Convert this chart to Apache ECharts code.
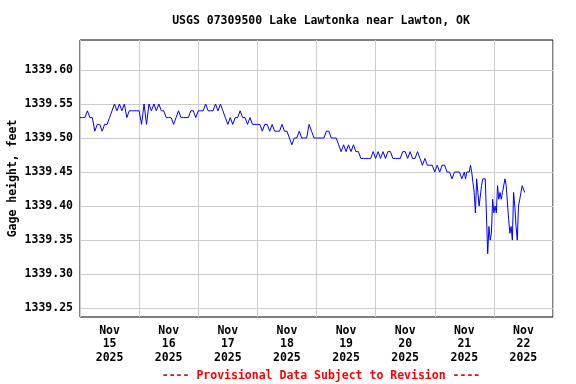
<!DOCTYPE html>
<html><head><meta charset="utf-8">
<script src="https://cdn.jsdelivr.net/npm/echarts@6/dist/echarts.min.js"></script>
<style>html,body{margin:0;padding:0;background:#fff}#c{width:576px;height:384px}</style>
</head><body><div id="c"></div>
<script>
const titleText = 'USGS 07309500 Lake Lawtonka near Lawton, OK';
const yAxisName = 'Gage height, feet';
const footerText = '---- Provisional Data Subject to Revision ----';
const monthLabel = 'Nov';
const yearLabel = '2025';
const dayLabels = ['15','16','17','18','19','20','21','22'];
const yTicks = [1339.25, 1339.30, 1339.35, 1339.40, 1339.45, 1339.50, 1339.55, 1339.60];
const yMin = 1339.237, yMax = 1339.644;
const totalHours = 192; // Nov 15 00:00 to Nov 23 00:00

// Hourly gage height, Nov 15 00:00 .. Nov 21 11:00
const hourlyLevels = [
 1339.53,1339.53,1339.53,1339.54,1339.53,1339.53,1339.51,1339.52,1339.52,1339.51,1339.52,1339.52,1339.53,1339.54,1339.55,1339.54,1339.55,1339.54,1339.55,1339.53,1339.54,1339.54,1339.54,1339.54,
 1339.54,1339.52,1339.55,1339.52,1339.55,1339.54,1339.55,1339.54,1339.55,1339.54,1339.54,1339.53,1339.53,1339.53,1339.52,1339.53,1339.54,1339.53,1339.53,1339.53,1339.53,1339.54,1339.54,1339.53,
 1339.54,1339.54,1339.54,1339.55,1339.54,1339.54,1339.54,1339.55,1339.54,1339.55,1339.54,1339.53,1339.52,1339.53,1339.52,1339.53,1339.53,1339.54,1339.53,1339.53,1339.52,1339.53,1339.52,1339.52,
 1339.52,1339.52,1339.51,1339.52,1339.52,1339.51,1339.52,1339.51,1339.51,1339.51,1339.52,1339.51,1339.51,1339.50,1339.49,1339.50,1339.50,1339.51,1339.50,1339.50,1339.50,1339.52,1339.51,1339.50,
 1339.50,1339.50,1339.50,1339.50,1339.51,1339.51,1339.50,1339.50,1339.50,1339.49,1339.48,1339.49,1339.48,1339.49,1339.48,1339.49,1339.48,1339.48,1339.47,1339.47,1339.47,1339.47,1339.47,1339.48,
 1339.47,1339.48,1339.47,1339.48,1339.47,1339.48,1339.48,1339.47,1339.47,1339.47,1339.47,1339.48,1339.48,1339.47,1339.48,1339.47,1339.47,1339.48,1339.47,1339.46,1339.47,1339.46,1339.46,1339.46,
 1339.45,1339.46,1339.45,1339.46,1339.46,1339.45,1339.45,1339.44,1339.45,1339.45,1339.45,1339.44
];
// Half-hourly gage height, Nov 21 12:00 .. Nov 22 12:30
const halfHourLevels = [
 1339.45,1339.44,1339.45,1339.45,1339.45,1339.46,1339.45,1339.45,1339.42,1339.39,
 1339.44,1339.42,1339.40,1339.40,1339.43,1339.44,1339.44,1339.44,1339.44,1339.33,
 1339.37,1339.35,1339.36,1339.41,1339.39,1339.40,1339.39,1339.43,1339.41,1339.42,
 1339.41,1339.42,1339.42,1339.44,1339.43,1339.43,1339.38,1339.36,1339.37,1339.35,
 1339.42,1339.40,1339.37,1339.35,1339.40,1339.41,1339.42,1339.43,1339.43,1339.42
];
const halfHourStart = 156;

const seriesData = [];
hourlyLevels.forEach((v, i) => seriesData.push([i, v]));
halfHourLevels.forEach((v, i) => seriesData.push([halfHourStart + i * 0.5, v]));

const midnights = [];
for (let h = 0; h <= totalHours; h += 24) midnights.push(h);
const noons = dayLabels.map((d, i) => i * 24 + 12);

const FONT = '"DejaVu Sans Mono", "Liberation Mono", monospace';
const chart = echarts.init(document.getElementById('c'), null, {renderer: 'canvas'});
chart.setOption({
  animation: false,
  backgroundColor: '#ffffff',
  title: [{
    text: titleText,
    left: 316, top: 10, textAlign: 'center',
    textStyle: {fontFamily: FONT, fontWeight: 'bold', fontSize: 11.5, color: '#000'}
  }, {
    text: footerText,
    left: 316, top: 365, textAlign: 'center',
    textStyle: {fontFamily: FONT, fontWeight: 'bold', fontSize: 11.5, color: '#ff0000'}
  }],
  grid: {left: 80, right: 23, top: 40, bottom: 67, show: true, borderColor: '#000', borderWidth: 1,
         backgroundColor: 'transparent', containLabel: false, outerBoundsMode: 'none'},
  xAxis: {
    type: 'value', min: 0, max: totalHours,
    axisLine: {show: false},
    axisTick: {show: false, customValues: midnights},
    splitLine: {show: true, lineStyle: {color: '#cccccc', width: 1}},
    axisLabel: {
      customValues: noons, margin: 7,
      fontFamily: FONT, fontWeight: 'bold', fontSize: 11.5, color: '#000', lineHeight: 13.5,
      formatter: v => monthLabel + '\n' + dayLabels[Math.round((v - 12) / 24)] + '\n' + yearLabel
    }
  },
  yAxis: {
    type: 'value', min: yMin, max: yMax,
    name: yAxisName, nameLocation: 'middle', nameGap: 61, nameRotate: 90, nameMoveOverlap: false,
    nameTextStyle: {fontFamily: FONT, fontWeight: 'bold', fontSize: 11.5, color: '#000'},
    axisLine: {show: false},
    axisTick: {show: false, customValues: yTicks},
    splitLine: {show: true, lineStyle: {color: '#cccccc', width: 1}},
    axisLabel: {
      customValues: yTicks, margin: 7,
      fontFamily: FONT, fontWeight: 'bold', fontSize: 11.5, color: '#000',
      formatter: v => v.toFixed(2)
    }
  },
  series: [{
    type: 'line', data: seriesData, symbol: 'none',
    lineStyle: {color: '#0000ff', width: 1}, z: 5
  }]
});
</script></body></html>
